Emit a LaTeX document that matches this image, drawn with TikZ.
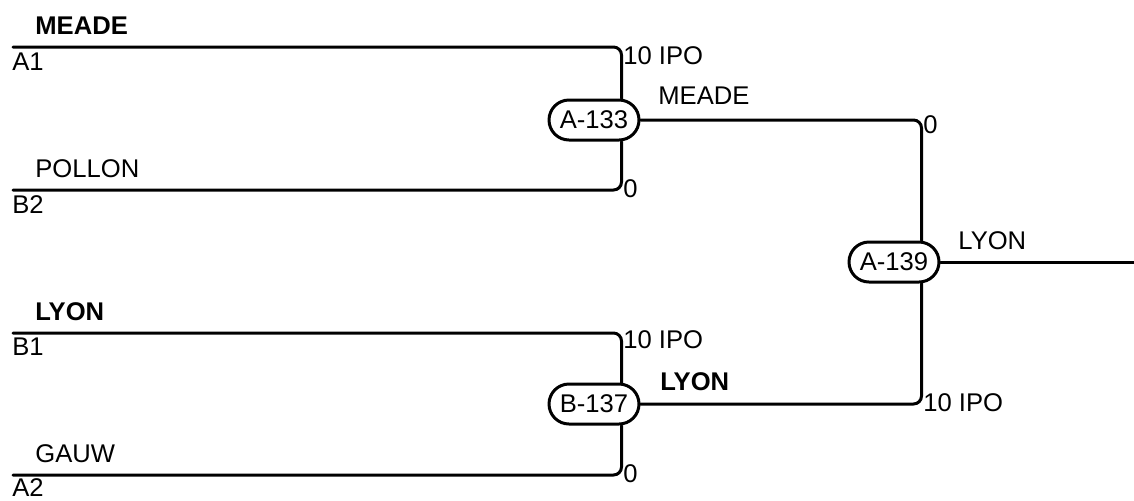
\documentclass[tikz,border=0pt]{standalone}
\usepackage{fontspec}
\setmainfont{Liberation Sans}
\usetikzlibrary{shapes.misc,calc}

\tikzset{
	wire/.style={line width=1.5pt, rounded corners=4pt},
	game/.style={draw, line width=1.5pt, rounded rectangle,
		minimum width=45pt, minimum height=20pt, inner sep=0pt},
	lbl/.style={inner sep=0pt, anchor=base west},
}

\begin{document}
\begin{tikzpicture}[x=0.5pt, y=-0.5pt, line cap=round,
		font=\fontsize{12.8}{15.4}\selectfont]

			% constants
			\pgfmathsetmacro{\xmax}{1134};
			\pgfmathsetmacro{\ymax}{500};
			\pgfmathsetmacro{\xleft}{13};
			\pgfmathsetmacro{\inset}{19};

			\useasboundingbox (0,0) rectangle (\xmax,\ymax);

			% games
			\node[game] (g133) at (594,120) {A-133};
			\node[game] (g137) at (594,404) {B-137};
			\node[game] (g139) at (894,262) {A-139};
			\coordinate (g133in) at ($(g133.east)+(-\inset,0)$);
			\coordinate (g137in) at ($(g137.east)+(-\inset,0)$);
			\coordinate (g139in) at ($(g139.east)+(-\inset,0)$);

			% free ends
			\coordinate (a1) at (\xleft,47);
			\coordinate (b2) at (\xleft,190);
			\coordinate (b1) at (\xleft,333);
			\coordinate (a2) at (\xleft,475);
			\coordinate (final) at (\xmax,262);

			% first round
			\draw[wire] (a1) -| (g133in |- g133.north);
			\draw[wire] (b2) -| (g133in |- g133.south);
			\draw[wire] (b1) -| (g137in |- g137.north);
			\draw[wire] (a2) -| (g137in |- g137.south);

			% second round
			\draw[wire] (g133.east) -| (g139in |- g139.north);
			\draw[wire] (g137.east) -| (g139in |- g139.south);
			\draw[wire] (g139.east) -- (final);

			% teams
			\node[lbl] (tmeade) at (35,34) {\textbf{MEADE}};
			\node[lbl] (sa1) at (12,70) {A1};
			\node[lbl] (tpollon) at (35,177) {POLLON};
			\node[lbl] (sb2) at (12,213) {B2};
			\node[lbl] (tlyon) at (35,320) {\textbf{LYON}};
			\node[lbl] (sb1) at (12,355) {B1};
			\node[lbl] (tgauw) at (35,462) {GAUW};
			\node[lbl] (sa2) at (12,496) {A2};

			% scores
			\node[lbl] (s133a) at (623,64) {10 IPO};
			\node[lbl] (s133b) at (623,197) {0};
			\node[lbl] (s137a) at (623,348) {10 IPO};
			\node[lbl] (s137b) at (623,482) {0};
			\node[lbl] (s139a) at (923,133) {0};
			\node[lbl] (s139b) at (923,411) {10 IPO};

			% winners
			\node[lbl] (w133) at (658,104) {MEADE};
			\node[lbl] (w137) at (660,390) {\textbf{LYON}};
			\node[lbl] (w139) at (958,249) {LYON};

		\end{tikzpicture}
\end{document}
